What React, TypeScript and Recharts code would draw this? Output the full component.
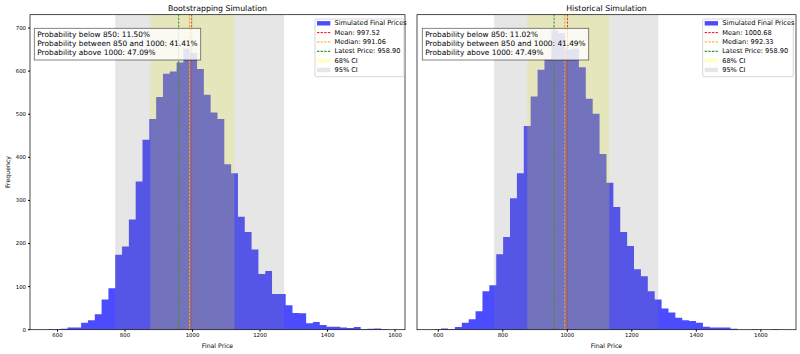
import React from 'react';
import { ComposedChart, Area, XAxis, YAxis, ReferenceArea, ReferenceLine } from 'recharts';

// histogram counts (50 bins each)
const bootCounts = [1, 1, 2, 5, 5, 16, 22, 36, 70, 96, 174, 193, 256, 344, 441, 489, 540, 594, 599, 620, 652, 642, 605, 545, 504, 489, 384, 363, 262, 227, 186, 129, 136, 83, 83, 57, 39, 38, 15, 18, 11, 7, 7, 5, 4, 6, 1, 2, 3, 1];
const histCounts = [1, 3, 1, 6, 16, 24, 43, 89, 103, 175, 215, 305, 363, 473, 541, 603, 628, 695, 688, 650, 652, 609, 536, 501, 408, 341, 285, 227, 194, 140, 124, 89, 70, 49, 40, 28, 22, 20, 16, 7, 5, 5, 5, 2, 0, 0, 1, 0, 0, 1];
const bootBins = [569, 20.2]; // first edge, bin width
const histBins = [587.4, 21.36];

const xTicks = [600, 800, 1000, 1200, 1400, 1600];
const yTicks = [0, 100, 200, 300, 400, 500, 600, 700];

const lineNames = ['Mean', 'Median', 'Latest Price'];
const bootLines = [997.52, 991.06, 958.9];
const histLines = [1000.68, 992.33, 958.9];
const bootCI68 = [875, 1124];
const bootCI95 = [771, 1271];
const histCI68 = [876, 1130];
const histCI95 = [773, 1282];
const bootProbs = [11.5, 41.41, 47.09];
const histProbs = [11.02, 41.49, 47.49];

const FONT = '"DejaVu Sans", Verdana, sans-serif';
const LINE_COLORS = ['#ff0000', '#ffa500', '#008000'];

function toSteps(counts: number[], bins: number[]) {
  const pts = counts.map((c, i) => ({ x: bins[0] + i * bins[1], count: c }));
  pts.push({ x: bins[0] + counts.length * bins[1], count: counts[counts.length - 1] });
  return pts;
}

interface PanelProps {
  counts: number[];
  bins: number[];
  xDomain: [number, number];
  lines: number[];
  ci68: number[];
  ci95: number[];
  left: number;
  width: number;
  margin: { top: number; right: number; bottom: number; left: number };
  yWidth: number;
  yLabels: boolean;
}

function Panel({ counts, bins, xDomain, lines, ci68, ci95, left, width, margin, yWidth, yLabels }: PanelProps) {
  const tickStyle = { fontSize: 5.4, fill: '#000', fontFamily: FONT };
  return (
    <div style={{ position: 'absolute', left, top: 0 }}>
      <ComposedChart width={width} height={354} data={toSteps(counts, bins)} margin={margin}>
        <XAxis dataKey="x" type="number" domain={xDomain} ticks={xTicks} interval={0} allowDataOverflow
          height={14} tick={tickStyle} tickSize={2} tickMargin={1.5} axisLine={false} stroke="#000" />
        <YAxis type="number" domain={[0, 731]} ticks={yTicks} interval={0} allowDataOverflow width={yWidth}
          tick={yLabels ? tickStyle : false} tickSize={2} tickMargin={2} axisLine={false} stroke="#000" />
        <Area type="stepAfter" dataKey="count" stroke="none" fill="#0000ff" fillOpacity={0.7}
          dot={false} activeDot={false} isAnimationActive={false} zIndex={100} />
        {lines.map((v, i) => (
          <ReferenceLine key={i} x={v} stroke={LINE_COLORS[i]} strokeWidth={1} strokeDasharray="2.4 1.2" zIndex={110} />
        ))}
        <ReferenceArea x1={ci68[0]} x2={ci68[1]} fill="#ffff00" fillOpacity={0.2} stroke="none" zIndex={120} />
        <ReferenceArea x1={ci95[0]} x2={ci95[1]} fill="#808080" fillOpacity={0.2} stroke="none" zIndex={120} />
      </ComposedChart>
    </div>
  );
}

function ProbBox({ x, probs }: { x: number; probs: number[] }) {
  const texts = [
    `Probability below 850: ${probs[0].toFixed(2)}%`,
    `Probability between 850 and 1000: ${probs[1].toFixed(2)}%`,
    `Probability above 1000: ${probs[2].toFixed(2)}%`,
  ];
  return (
    <g>
      <rect x={x} y={28.3} width={166.4} height={31.7} fill="#fff" fillOpacity={0.8} stroke="#000" strokeOpacity={0.6} strokeWidth={0.8} />
      {texts.map((t, i) => (
        <text key={i} x={x + 3} y={34 + i * 9.33} dominantBaseline="central" fontSize={7.4} fontFamily={FONT} fill="#000">{t}</text>
      ))}
    </g>
  );
}

function LegendBox({ x, w, lines }: { x: number; w: number; lines: number[] }) {
  const rowY = (i: number) => 23.3 + i * 9.33;
  const labels = ['Simulated Final Prices', ...lines.map((v, i) => `${lineNames[i]}: ${v.toFixed(2)}`), '68% CI', '95% CI'];
  return (
    <g>
      <rect x={x} y={19} width={w} height={57.7} rx={1.5} fill="#fff" fillOpacity={0.8} stroke="#ccc" strokeWidth={0.8} />
      <rect x={x + 2} y={rowY(0) - 2.2} width={13.3} height={4.4} fill="#0000ff" fillOpacity={0.7} />
      {lines.map((_, i) => (
        <line key={i} x1={x + 2} x2={x + 15.3} y1={rowY(i + 1)} y2={rowY(i + 1)} stroke={LINE_COLORS[i]} strokeWidth={1} strokeDasharray="2.4 1.2" />
      ))}
      <rect x={x + 2} y={rowY(4) - 2.2} width={13.3} height={4.4} fill="#ffff00" fillOpacity={0.2} />
      <rect x={x + 2} y={rowY(5) - 2.2} width={13.3} height={4.4} fill="#808080" fillOpacity={0.2} />
      {labels.map((t, i) => (
        <text key={i} x={x + 19.5} y={rowY(i)} dominantBaseline="central" fontSize={6.6} fontFamily={FONT} fill="#000">{t}</text>
      ))}
    </g>
  );
}

export default function App() {
  return (
    <div style={{ position: 'absolute', left: 0, top: 0, width: 800, height: 354, background: '#fff', overflow: 'hidden' }}>
      <Panel counts={bootCounts} bins={bootBins} xDomain={[518.5, 1629.5]} lines={bootLines} ci68={bootCI68} ci95={bootCI95}
        left={0} width={410} margin={{ top: 14.7, right: 5, bottom: 10.3, left: 6 }} yWidth={24} yLabels />
      <Panel counts={histCounts} bins={histBins} xDomain={[534, 1709]} lines={histLines} ci68={histCI68} ci95={histCI95}
        left={410} width={390} margin={{ top: 14.7, right: 4, bottom: 10.3, left: 3 }} yWidth={4} yLabels={false} />
      <svg width={800} height={354} style={{ position: 'absolute', left: 0, top: 0, pointerEvents: 'none' }}>
        <rect x={30} y={14.7} width={375} height={315} fill="none" stroke="#000" strokeWidth={0.7} />
        <rect x={417} y={14.7} width={379} height={315} fill="none" stroke="#000" strokeWidth={0.7} />
        <text x={217.5} y={8} textAnchor="middle" dominantBaseline="central" fontSize={7.8} fontFamily={FONT} fill="#000">Bootstrapping Simulation</text>
        <text x={606.5} y={8} textAnchor="middle" dominantBaseline="central" fontSize={7.8} fontFamily={FONT} fill="#000">Historical Simulation</text>
        <text x={217.5} y={345.7} textAnchor="middle" dominantBaseline="central" fontSize={6.2} fontFamily={FONT} fill="#000">Final Price</text>
        <text x={606.5} y={345.7} textAnchor="middle" dominantBaseline="central" fontSize={6.2} fontFamily={FONT} fill="#000">Final Price</text>
        <text x={7.5} y={172} textAnchor="middle" dominantBaseline="central" fontSize={6.2} fontFamily={FONT} fill="#000"
          transform="rotate(-90 7.5 172)">Frequency</text>
        <ProbBox x={34.3} probs={bootProbs} />
        <ProbBox x={422.3} probs={histProbs} />
        <LegendBox x={315} w={89} lines={bootLines} />
        <LegendBox x={702.7} w={90.6} lines={histLines} />
      </svg>
    </div>
  );
}
